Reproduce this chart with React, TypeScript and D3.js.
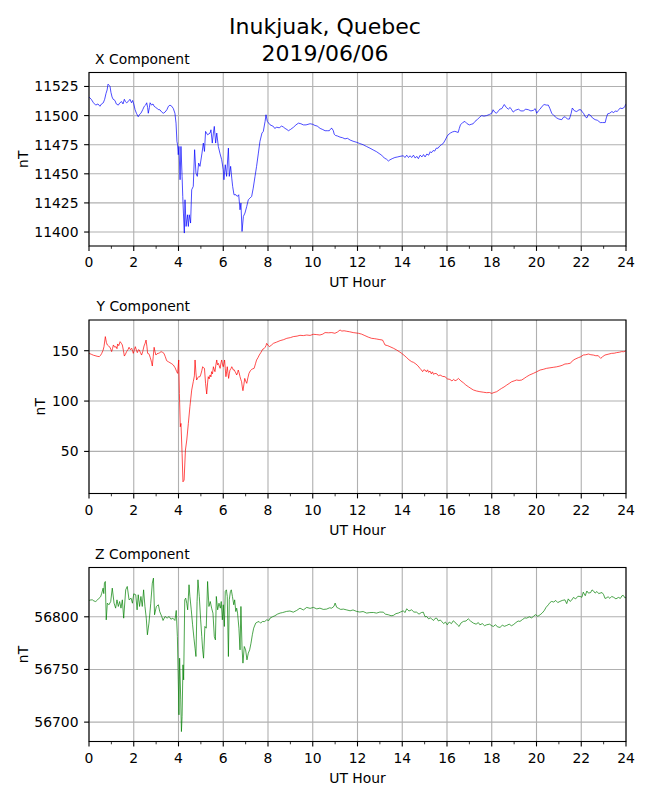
import React from "react";
import * as d3 from "d3";

const titleLines = ["Inukjuak, Quebec", "2019/06/06"];
const xAxisLabel = "UT Hour";
const yAxisLabel = "nT";
const hourTicks = [0, 2, 4, 6, 8, 10, 12, 14, 16, 18, 20, 22, 24];
const hourMinorTicks = [1, 3, 5, 7, 9, 11, 13, 15, 17, 19, 21, 23];

const xTicks = [11400, 11425, 11450, 11475, 11500, 11525];
const yTicks = [50, 100, 150];
const zTicks = [56700, 56750, 56800];

const xComponent: [number, number][] = [
  [0.0, 11516], [0.1, 11514], [0.2, 11511], [0.3, 11509], [0.4, 11510], [0.49, 11508], [0.56, 11510],
  [0.64, 11511], [0.7, 11514], [0.76, 11519], [0.81, 11522], [0.85, 11527], [0.9, 11526], [0.94, 11525],
  [0.98, 11520], [1.03, 11516], [1.08, 11514], [1.16, 11513], [1.22, 11510], [1.31, 11509], [1.38, 11511],
  [1.46, 11512], [1.52, 11510], [1.58, 11514], [1.63, 11512], [1.68, 11511], [1.75, 11512], [1.83, 11514],
  [1.9, 11511], [1.95, 11513], [2.0, 11510], [2.06, 11505], [2.12, 11502], [2.2, 11499], [2.26, 11501],
  [2.32, 11502], [2.4, 11505], [2.47, 11508], [2.53, 11509], [2.58, 11511], [2.62, 11507], [2.65, 11502],
  [2.7, 11507], [2.73, 11511], [2.8, 11509], [2.86, 11510], [2.91, 11508], [2.98, 11507], [3.05, 11506],
  [3.12, 11505], [3.17, 11505], [3.25, 11503], [3.32, 11502], [3.4, 11503], [3.48, 11505], [3.55, 11508],
  [3.62, 11509], [3.7, 11508], [3.77, 11506], [3.84, 11502], [3.89, 11493.5], [3.93, 11477.8], [3.96, 11474.9],
  [3.99, 11466.4], [4.02, 11473.5], [4.07, 11444.9], [4.11, 11473.5], [4.16, 11447.8], [4.19, 11430.6],
  [4.22, 11416.3], [4.26, 11399.1], [4.29, 11427.7], [4.34, 11404.8], [4.4, 11414.8], [4.44, 11404.8],
  [4.48, 11414.8], [4.54, 11407.7], [4.59, 11436.3], [4.66, 11439.2], [4.72, 11470.7], [4.78, 11450.6],
  [4.84, 11447.8], [4.9, 11459.2], [4.96, 11456.4], [5.05, 11467.8], [5.11, 11476.4], [5.16, 11469.2],
  [5.21, 11486.4], [5.3, 11483.5], [5.41, 11485.0], [5.45, 11487.8], [5.51, 11476.4], [5.56, 11485.0],
  [5.6, 11490.7], [5.66, 11476.4], [5.71, 11485.0], [5.78, 11473.5], [5.85, 11467.8], [5.93, 11462.1],
  [6.0, 11453.5], [6.03, 11444.9], [6.09, 11457.8], [6.15, 11447.8], [6.23, 11472.1], [6.27, 11447.8],
  [6.33, 11456.4], [6.38, 11446.3], [6.42, 11439.2], [6.48, 11432.0], [6.57, 11432.0], [6.63, 11430.6],
  [6.69, 11432.0], [6.75, 11419.1], [6.79, 11424.9], [6.84, 11400.5], [6.9, 11413.4], [6.97, 11416.3],
  [7.05, 11422.0], [7.12, 11427.7], [7.2, 11429.2], [7.27, 11430.6], [7.34, 11437.7], [7.42, 11447.8],
  [7.49, 11456.4], [7.57, 11467.8], [7.64, 11477.8], [7.73, 11485.0], [7.79, 11486.4], [7.87, 11495.0],
  [7.91, 11500.7], [7.97, 11495.0], [8.09, 11492.1], [8.24, 11490.7], [8.3, 11489], [8.39, 11490],
  [8.5, 11489.5], [8.61, 11491], [8.7, 11490], [8.76, 11489], [8.85, 11488], [8.91, 11487], [9.0, 11488],
  [9.14, 11490], [9.25, 11492], [9.36, 11493.5], [9.47, 11493], [9.58, 11492], [9.7, 11492], [9.88, 11493],
  [10.0, 11492.5], [10.1, 11491.5], [10.2, 11491], [10.33, 11489], [10.45, 11488], [10.55, 11487],
  [10.65, 11487], [10.74, 11487], [10.82, 11489], [10.86, 11489], [10.92, 11487], [10.96, 11484],
  [11.01, 11483], [11.1, 11482.5], [11.22, 11481.5], [11.33, 11481], [11.44, 11480], [11.55, 11480.5],
  [11.67, 11479], [11.8, 11478], [11.97, 11477], [12.1, 11476], [12.25, 11475], [12.4, 11473.5],
  [12.56, 11472], [12.7, 11470.5], [12.85, 11469], [13.0, 11467], [13.08, 11466], [13.2, 11463.5],
  [13.3, 11462.5], [13.38, 11461], [13.45, 11462], [13.55, 11463], [13.67, 11464], [13.8, 11464.5],
  [13.9, 11465], [14.05, 11465.5], [14.12, 11464], [14.2, 11466], [14.28, 11464], [14.35, 11465.5],
  [14.42, 11464], [14.5, 11466], [14.58, 11463.5], [14.65, 11465], [14.72, 11463], [14.8, 11466],
  [14.88, 11464.5], [14.95, 11466.5], [15.02, 11464.5], [15.1, 11467], [15.18, 11466], [15.25, 11469],
  [15.3, 11468], [15.38, 11470], [15.45, 11469.5], [15.52, 11472], [15.6, 11472], [15.68, 11474],
  [15.75, 11475], [15.83, 11476], [15.92, 11479], [16.0, 11482], [16.05, 11483.5], [16.15, 11485],
  [16.25, 11486], [16.35, 11486.5], [16.5, 11485.5], [16.55, 11489], [16.6, 11492], [16.7, 11494],
  [16.8, 11495], [16.9, 11493], [17.0, 11492], [17.08, 11492.5], [17.17, 11493], [17.25, 11495],
  [17.35, 11496.5], [17.45, 11498.5], [17.55, 11500], [17.65, 11499.5], [17.77, 11500], [17.9, 11501],
  [18.0, 11502], [18.06, 11505], [18.13, 11503], [18.21, 11502], [18.3, 11504], [18.36, 11505.5],
  [18.45, 11506], [18.56, 11509.5], [18.65, 11507], [18.74, 11505.5], [18.82, 11507], [18.89, 11505],
  [18.96, 11503], [19.05, 11504.5], [19.19, 11505.5], [19.3, 11504], [19.41, 11504], [19.52, 11505.5],
  [19.64, 11505], [19.75, 11504], [19.86, 11504.5], [19.94, 11506], [20.01, 11502], [20.08, 11504],
  [20.16, 11505.5], [20.25, 11508], [20.34, 11509.5], [20.45, 11509], [20.53, 11509], [20.6, 11506],
  [20.68, 11502], [20.78, 11500], [20.9, 11498], [21.0, 11497], [21.13, 11496.5], [21.2, 11498.5],
  [21.28, 11499], [21.38, 11497], [21.47, 11497], [21.55, 11502], [21.6, 11506.5], [21.7, 11504],
  [21.8, 11503.5], [21.9, 11505], [21.98, 11505], [22.05, 11503], [22.1, 11502], [22.18, 11499],
  [22.25, 11498], [22.32, 11501], [22.4, 11500.5], [22.5, 11498], [22.62, 11496.5], [22.72, 11496],
  [22.85, 11494], [22.95, 11494], [23.07, 11494], [23.12, 11498], [23.18, 11501.5], [23.27, 11502],
  [23.37, 11503.5], [23.45, 11502.5], [23.52, 11504], [23.6, 11503.5], [23.68, 11505], [23.74, 11506.5],
  [23.82, 11506], [23.89, 11506.5], [23.95, 11508], [24.0, 11510],
];

const yComponent: [number, number][] = [
  [0.0, 147.4], [0.1, 146.5], [0.2, 145.5], [0.27, 145.1], [0.36, 144.5], [0.46, 144.1], [0.52, 145.5],
  [0.57, 147.4], [0.63, 150.5], [0.67, 154.0], [0.73, 164.0], [0.78, 158], [0.82, 155.7], [0.88, 154.5],
  [0.94, 153.4], [0.98, 151], [1.01, 149.1], [1.05, 152], [1.09, 155.7], [1.15, 153.5], [1.21, 154.0],
  [1.25, 152], [1.28, 156.7], [1.33, 155], [1.39, 159.0], [1.44, 157.5], [1.49, 155.7], [1.54, 150],
  [1.58, 144.7], [1.63, 146.5], [1.68, 149.1], [1.74, 151], [1.79, 153.4], [1.85, 151], [1.91, 152.4],
  [1.95, 149.5], [1.98, 147.4], [2.03, 151], [2.07, 154.0], [2.12, 150.5], [2.16, 148.1], [2.21, 151],
  [2.25, 150.7], [2.3, 148], [2.35, 145.7], [2.4, 149], [2.46, 154.7], [2.51, 157.5], [2.55, 160.6],
  [2.59, 154], [2.62, 147.4], [2.67, 147], [2.7, 145.7], [2.74, 143], [2.77, 140.8], [2.8, 138],
  [2.83, 134.8], [2.87, 144], [2.91, 153.4], [2.95, 149], [2.99, 145.7], [3.04, 147], [3.1, 147.4],
  [3.16, 148], [3.22, 149.1], [3.28, 148.5], [3.35, 147.4], [3.41, 144], [3.47, 140.1], [3.55, 139],
  [3.62, 138.1], [3.7, 137], [3.77, 135.8], [3.85, 133], [3.92, 129.2], [3.96, 127.5], [4.01, 140.8],
  [4.04, 107.6], [4.08, 74.5], [4.11, 77.8], [4.16, 48.0], [4.2, 19.8], [4.25, 21.5], [4.31, 51.3],
  [4.37, 61.3], [4.44, 77.8], [4.51, 94.4], [4.59, 110.9], [4.66, 119.2], [4.71, 125], [4.74, 140.8],
  [4.78, 128], [4.81, 120.9], [4.86, 123], [4.9, 124.2], [4.95, 124], [4.99, 125.9], [5.04, 130],
  [5.08, 134.1], [5.12, 133], [5.16, 132.5], [5.21, 117.6], [5.26, 107.0], [5.3, 118], [5.33, 124.2],
  [5.37, 122], [5.41, 125.9], [5.45, 124], [5.48, 129.2], [5.52, 127], [5.56, 134.1], [5.6, 131],
  [5.63, 129.2], [5.67, 136], [5.71, 140.8], [5.74, 136], [5.78, 137.5], [5.82, 135], [5.86, 132.5],
  [5.9, 138], [5.93, 140.8], [5.97, 136], [6.0, 134.1], [6.03, 137], [6.06, 140.8], [6.09, 132],
  [6.12, 124.2], [6.15, 129], [6.18, 134.1], [6.21, 128], [6.24, 122.5], [6.27, 127], [6.3, 130.8],
  [6.34, 132], [6.38, 134.1], [6.41, 133], [6.45, 130.8], [6.49, 131], [6.53, 129.2], [6.56, 128],
  [6.6, 125.9], [6.64, 128], [6.67, 130.8], [6.71, 128], [6.75, 124.2], [6.79, 121], [6.82, 119.2],
  [6.85, 114], [6.88, 110.3], [6.92, 116], [6.96, 122.5], [7.0, 120], [7.05, 117.6], [7.1, 123],
  [7.15, 127.5], [7.21, 130], [7.27, 131.5], [7.32, 132], [7.38, 132.5], [7.44, 137], [7.49, 140.8],
  [7.55, 143], [7.61, 145.7], [7.69, 148.5], [7.76, 151.4], [7.82, 152], [7.87, 153.4], [7.91, 155],
  [7.94, 157.3], [8.0, 155.5], [8.06, 154.0], [8.15, 155.5], [8.24, 157.3], [8.38, 158.5], [8.54, 160.0],
  [8.7, 161], [8.84, 162.3], [9.0, 163], [9.13, 164.0], [9.3, 164.5], [9.43, 165.3], [9.58, 165],
  [9.73, 165.6], [9.88, 165.2], [10.03, 166.3], [10.18, 166], [10.32, 165.6], [10.45, 166.5], [10.55, 168.0],
  [10.7, 167.8], [10.85, 168.0], [10.99, 167.3], [11.1, 168.5], [11.22, 170.6], [11.3, 169.5], [11.4, 169.8],
  [11.52, 169.3], [11.65, 168.8], [11.81, 168.0], [12.04, 167.3], [12.18, 166.5], [12.33, 165.0],
  [12.48, 163.5], [12.63, 162.3], [12.75, 162], [12.86, 161.6], [13.0, 161], [13.12, 160.6], [13.18, 158],
  [13.23, 155.7], [13.35, 155], [13.45, 154.0], [13.6, 152.5], [13.75, 150.7], [13.87, 149], [13.97, 147.4],
  [14.08, 145.5], [14.2, 143.1], [14.3, 141], [14.42, 139.1], [14.5, 138.5], [14.61, 136.8], [14.7, 135],
  [14.79, 132.5], [14.85, 131], [14.91, 129.2], [14.96, 131], [15.02, 130.8], [15.08, 129], [15.13, 131],
  [15.18, 128.5], [15.24, 129.8], [15.3, 127], [15.35, 129], [15.4, 126.5], [15.46, 127.5], [15.55, 127],
  [15.62, 125], [15.69, 125.9], [15.8, 124.5], [15.91, 124.2], [16.02, 122], [16.13, 121.5], [16.22, 120],
  [16.3, 121.5], [16.36, 120.2], [16.44, 121], [16.51, 122.5], [16.62, 120], [16.73, 118.2], [16.84, 116],
  [16.95, 114.3], [17.07, 112.5], [17.18, 111.0], [17.32, 110], [17.47, 109.3], [17.62, 108.8],
  [17.77, 108.3], [17.9, 108.5], [18.0, 107.6], [18.1, 108.5], [18.22, 109.3], [18.33, 111], [18.44, 112.6],
  [18.55, 114], [18.67, 115.9], [18.78, 117.5], [18.89, 119.2], [19.0, 120], [19.11, 120.9], [19.22, 120.5],
  [19.34, 120.9], [19.45, 122.5], [19.56, 124.2], [19.7, 126], [19.86, 127.5], [20.0, 129], [20.16, 130.8],
  [20.3, 131.5], [20.45, 132.5], [20.6, 133], [20.75, 133.5], [20.9, 134], [21.05, 134.8], [21.15, 135.5],
  [21.27, 136.8], [21.38, 137], [21.5, 137.5], [21.58, 139], [21.65, 140.8], [21.76, 142], [21.87, 143.1],
  [21.98, 144], [22.09, 145.7], [22.2, 146], [22.32, 146.7], [22.43, 146], [22.54, 145.7], [22.65, 145],
  [22.76, 145.1], [22.82, 143.5], [22.87, 142.4], [22.95, 144], [23.06, 145.7], [23.2, 146.5], [23.36, 147.4],
  [23.47, 147.5], [23.58, 148.1], [23.7, 148.5], [23.81, 149.1], [23.9, 149], [24.0, 150.0],
];

const zComponent: [number, number][] = [
  [0.0, 56815.5], [0.08, 56816], [0.15, 56816.1], [0.22, 56815], [0.3, 56814.5], [0.38, 56816],
  [0.45, 56817.7], [0.52, 56819], [0.57, 56822.4], [0.63, 56827.2], [0.66, 56822], [0.69, 56832.0],
  [0.73, 56833.5], [0.77, 56797.1], [0.82, 56813.0], [0.89, 56811.4], [0.97, 56814.5], [1.04, 56827.2],
  [1.12, 56813.0], [1.19, 56808.2], [1.25, 56816.1], [1.31, 56809.8], [1.37, 56814.5], [1.43, 56808.2],
  [1.49, 56816.1], [1.55, 56798.7], [1.64, 56825.6], [1.71, 56828.8], [1.79, 56816.1], [1.88, 56817.7],
  [1.94, 56812.9], [2.0, 56821.8], [2.09, 56820.9], [2.15, 56806.6], [2.2, 56820.9], [2.26, 56809.8],
  [2.32, 56819.3], [2.38, 56809.8], [2.44, 56825.6], [2.5, 56809.8], [2.56, 56798.7], [2.61, 56782.9],
  [2.68, 56794.0], [2.76, 56812.9], [2.83, 56832.0], [2.88, 56836.7], [2.93, 56801.9], [3.01, 56809.8],
  [3.1, 56811.4], [3.16, 56805.0], [3.25, 56800.3], [3.31, 56796.5], [3.4, 56800.3], [3.49, 56798.7],
  [3.58, 56800.3], [3.66, 56797.7], [3.75, 56798.7], [3.84, 56796.5], [3.9, 56806.0], [3.95, 56781.3],
  [3.99, 56740.1], [4.02, 56706.9], [4.05, 56760.7], [4.1, 56721.1], [4.13, 56691.0], [4.16, 56705.3],
  [4.2, 56754.4], [4.23, 56740.1], [4.28, 56816.1], [4.32, 56817.7], [4.37, 56812.9], [4.41, 56806.6],
  [4.47, 56830.4], [4.51, 56819.3], [4.57, 56806.6], [4.63, 56792.4], [4.69, 56779.7], [4.74, 56770.2],
  [4.78, 56762.3], [4.83, 56814.5], [4.87, 56835.1], [4.93, 56819.3], [4.99, 56797.1], [5.04, 56781.3],
  [5.08, 56768.6], [5.12, 56760.7], [5.18, 56790.8], [5.24, 56789.2], [5.3, 56833.5], [5.36, 56809.8],
  [5.42, 56814.5], [5.48, 56808.2], [5.54, 56803.4], [5.6, 56781.3], [5.65, 56778.1], [5.69, 56819.3],
  [5.75, 56806.6], [5.81, 56812.9], [5.87, 56808.2], [5.91, 56814.5], [5.96, 56797.1], [6.0, 56811.4],
  [6.05, 56790.8], [6.09, 56824.0], [6.14, 56825.6], [6.18, 56819.3], [6.23, 56762.3], [6.27, 56816.1],
  [6.32, 56824.0], [6.36, 56825.6], [6.41, 56819.3], [6.47, 56811.4], [6.51, 56816.1], [6.56, 56805.0],
  [6.6, 56808.2], [6.64, 56803.4], [6.7, 56789.2], [6.75, 56768.6], [6.79, 56809.8], [6.84, 56770.2],
  [6.88, 56756.0], [6.94, 56771.8], [7.0, 56768.6], [7.06, 56759.1], [7.12, 56765.5], [7.18, 56768.6],
  [7.24, 56774.9], [7.3, 56782.9], [7.36, 56789.2], [7.45, 56794.0], [7.52, 56794.9], [7.6, 56795.5],
  [7.67, 56794.0], [7.75, 56795.5], [7.85, 56795.5], [7.94, 56797.1], [8.04, 56796.5], [8.09, 56798.7],
  [8.2, 56800], [8.31, 56801.0], [8.42, 56802.5], [8.54, 56803.5], [8.65, 56804], [8.83, 56805.1],
  [8.98, 56805.5], [9.13, 56804.4], [9.28, 56806], [9.43, 56808.2], [9.58, 56806.5], [9.73, 56808.9],
  [9.88, 56808], [10.03, 56808.9], [10.18, 56807.5], [10.32, 56808.2], [10.47, 56807], [10.62, 56807.3],
  [10.75, 56808.5], [10.85, 56808.2], [10.95, 56810], [11.0, 56813.0], [11.07, 56809], [11.14, 56808.2],
  [11.25, 56807], [11.37, 56807.3], [11.52, 56806.5], [11.67, 56805.7], [11.8, 56806.5], [11.96, 56805.1],
  [12.1, 56804.5], [12.25, 56805], [12.41, 56803.5], [12.55, 56804], [12.71, 56804.1], [12.85, 56803.5],
  [13.0, 56804.5], [13.15, 56804.4], [13.25, 56802.5], [13.38, 56801.9], [13.5, 56801], [13.6, 56801.3],
  [13.72, 56803], [13.82, 56803.5], [13.92, 56804.5], [14.05, 56805.7], [14.12, 56804], [14.2, 56807.6],
  [14.3, 56805.5], [14.42, 56806.6], [14.52, 56804.5], [14.64, 56804.4], [14.75, 56802.5], [14.85, 56804],
  [14.94, 56804.4], [15.02, 56800], [15.09, 56800.3], [15.18, 56798], [15.25, 56799], [15.31, 56798.1],
  [15.4, 56796.5], [15.47, 56798.5], [15.54, 56798.7], [15.62, 56796], [15.7, 56797], [15.76, 56795.6],
  [15.85, 56793.5], [15.93, 56795], [16.01, 56792.4], [16.1, 56795], [16.2, 56793.5], [16.28, 56796.2],
  [16.4, 56794], [16.48, 56792], [16.54, 56790.8], [16.62, 56794], [16.73, 56795.6], [16.85, 56796],
  [16.95, 56798.1], [17.05, 56796], [17.18, 56794.0], [17.3, 56793], [17.4, 56794.5], [17.47, 56792.4],
  [17.58, 56793.5], [17.68, 56791.5], [17.77, 56792.4], [17.9, 56793], [18.0, 56791.5], [18.07, 56790.8],
  [18.17, 56792.5], [18.25, 56790.5], [18.37, 56789.9], [18.47, 56792], [18.57, 56791], [18.67, 56791.8],
  [18.78, 56793], [18.88, 56791.5], [18.96, 56792.4], [19.08, 56794.5], [19.18, 56796], [19.26, 56795.6],
  [19.38, 56797.5], [19.48, 56799], [19.56, 56798.7], [19.68, 56800], [19.78, 56799], [19.86, 56800.3],
  [19.95, 56802], [20.06, 56800.5], [20.16, 56801.9], [20.25, 56803.5], [20.34, 56805.7], [20.43, 56809],
  [20.53, 56811.4], [20.6, 56813.5], [20.68, 56814.6], [20.77, 56814], [20.86, 56815.5], [20.95, 56813.5],
  [21.05, 56814.6], [21.15, 56815.5], [21.27, 56816.1], [21.35, 56812.5], [21.42, 56817], [21.5, 56814.6],
  [21.58, 56816], [21.65, 56818.4], [21.75, 56817], [21.85, 56819.5], [21.95, 56819.3], [22.03, 56818.5],
  [22.09, 56823.4], [22.18, 56820], [22.25, 56824.5], [22.32, 56822.5], [22.42, 56823], [22.48, 56825.5],
  [22.54, 56824.7], [22.62, 56822.5], [22.7, 56824], [22.78, 56822], [22.84, 56822.5], [22.93, 56823],
  [23.0, 56821], [23.06, 56817.5], [23.11, 56817.7], [23.2, 56819], [23.28, 56817.5], [23.36, 56819.3],
  [23.45, 56818.5], [23.55, 56817], [23.66, 56818.4], [23.75, 56817.5], [23.82, 56820], [23.88, 56820.3],
  [23.95, 56818], [24.0, 56818.4],
];

const FONT = "'DejaVu Sans', sans-serif";
const LEFT = 89;
const RIGHT = 626;

type Panel = {
  title: string;
  data: [number, number][];
  ticks: number[];
  domain: [number, number];
  top: number;
  bottom: number;
  color: string;
  titleX: number;
};

const panels: Panel[] = [
  { title: "X Component", data: xComponent, ticks: xTicks, domain: [11388, 11537], top: 72.5, bottom: 246, color: "#0000ff", titleX: 95 },
  { title: "Y Component", data: yComponent, ticks: yTicks, domain: [8.2, 180.5], top: 320, bottom: 493.5, color: "#ff0000", titleX: 96.5 },
  { title: "Z Component", data: zComponent, ticks: zTicks, domain: [56681.6, 56846.8], top: 567.5, bottom: 741.5, color: "#008000", titleX: 95 },
];

const xScale = d3.scaleLinear().domain([0, 24]).range([LEFT, RIGHT]);

function PanelView({ p, idx }: { p: Panel; idx: number }) {
  const y = d3.scaleLinear().domain(p.domain).range([p.bottom, p.top]);
  const line = d3
    .line<[number, number]>()
    .x((d) => xScale(d[0]))
    .y((d) => y(d[1]));
  const maxLen = d3.max(p.ticks, (t) => String(t).length) || 1;
  const labelW = maxLen * 0.636 * 13.9;
  const ylabelX = 78 - labelW - 6;
  const clipId = `clip${idx}`;
  return (
    <g>
      <defs>
        <clipPath id={clipId}>
          <rect x={LEFT} y={p.top} width={RIGHT - LEFT} height={p.bottom - p.top} />
        </clipPath>
      </defs>
      {hourTicks.map((t) => (
        <line key={"gx" + t} x1={xScale(t)} x2={xScale(t)} y1={p.top} y2={p.bottom} stroke="#b0b0b0" strokeWidth={1.1} />
      ))}
      {p.ticks.map((t) => (
        <line key={"gy" + t} x1={LEFT} x2={RIGHT} y1={y(t)} y2={y(t)} stroke="#b0b0b0" strokeWidth={1.1} />
      ))}
      <path d={line(p.data) || ""} fill="none" stroke={p.color} strokeWidth={0.7} clipPath={`url(#${clipId})`} />
      <rect x={LEFT} y={p.top} width={RIGHT - LEFT} height={p.bottom - p.top} fill="none" stroke="#000" strokeWidth={1.1} />
      {hourTicks.map((t) => (
        <g key={"tx" + t}>
          <line x1={xScale(t)} x2={xScale(t)} y1={p.bottom} y2={p.bottom + 4.9} stroke="#000" strokeWidth={1.1} />
          <text x={xScale(t)} y={p.bottom + 21} textAnchor="middle" fontSize={13.9} fontFamily={FONT} fill="#000">
            {t}
          </text>
        </g>
      ))}
      {hourMinorTicks.map((t) => (
        <line key={"mx" + t} x1={xScale(t)} x2={xScale(t)} y1={p.bottom} y2={p.bottom + 2.8} stroke="#000" strokeWidth={0.8} />
      ))}
      {p.ticks.map((t) => (
        <g key={"ty" + t}>
          <line x1={LEFT - 4.9} x2={LEFT} y1={y(t)} y2={y(t)} stroke="#000" strokeWidth={1.1} />
          <text x={78.5} y={y(t)} dy="0.36em" textAnchor="end" fontSize={13.9} fontFamily={FONT} fill="#000">
            {t}
          </text>
        </g>
      ))}
      <text x={(LEFT + RIGHT) / 2} y={p.bottom + 41} textAnchor="middle" fontSize={13.9} fontFamily={FONT} fill="#000">
        {xAxisLabel}
      </text>
      <text
        transform={`translate(${ylabelX},${(p.top + p.bottom) / 2}) rotate(-90)`}
        textAnchor="middle"
        fontSize={13.9}
        fontFamily={FONT}
        fill="#000"
      >
        {yAxisLabel}
      </text>
      <text x={p.titleX} y={p.top - 8.6} fontSize={13.9} fontFamily={FONT} fill="#000">
        {p.title}
      </text>
    </g>
  );
}

export default function App() {
  return (
    <svg
      width={650}
      height={800}
      viewBox="0 0 650 800"
      style={{ position: "absolute", left: 0, top: 0, background: "#fff" }}
    >
      <rect x={0} y={0} width={650} height={800} fill="#fff" />
      {titleLines.map((t, i) => (
        <text key={t} x={325} y={34 + i * 26.6} textAnchor="middle" fontSize={22} fontFamily={FONT} fill="#000">
          {t}
        </text>
      ))}
      {panels.map((p, i) => (
        <PanelView key={p.title} p={p} idx={i} />
      ))}
    </svg>
  );
}
